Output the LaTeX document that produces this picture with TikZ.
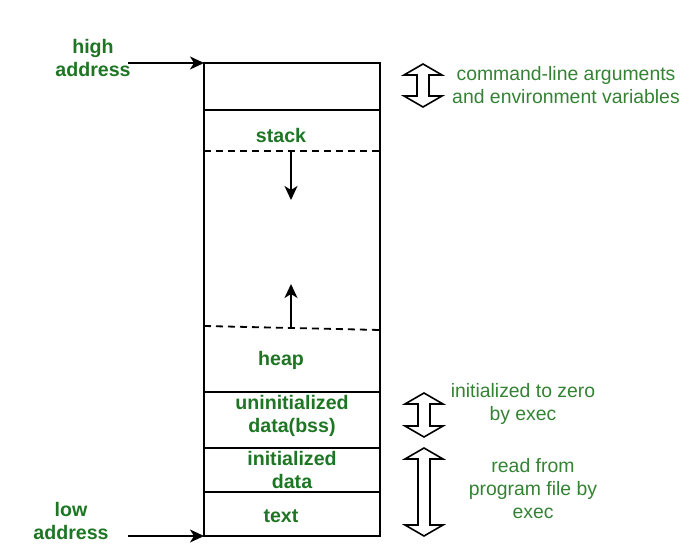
\documentclass[tikz,border=0pt]{standalone}
\usepackage{fontspec}
\setmainfont{Liberation Sans}
\usetikzlibrary{arrows.meta}
\definecolor{bgreen}{RGB}{30,118,36}
\definecolor{lgreen}{RGB}{52,130,52}
\begin{document}
\begin{tikzpicture}[x=1pt,y=-1pt,
  lab/.style={font=\fontsize{19.6}{22.5}\selectfont\bfseries, text=bgreen, align=center, inner sep=0pt},
  note/.style={font=\fontsize{19.4}{23}\selectfont, text=lgreen, align=center, inner sep=0pt},
  wall/.style={line width=2pt, black},
  dashline/.style={line width=1.8pt, dash pattern=on 7pt off 5pt},
  arr/.style={line width=1.7pt, -{Stealth[length=14pt,width=13pt,inset=4pt]}},
  hollow/.style={line width=1.6pt, fill=white, line join=miter}]
\useasboundingbox (0,0) rectangle (699,545);
% box
\coordinate (tl) at (204,63);
\coordinate (tr) at (380,63);
\coordinate (bl) at (204,536);
\coordinate (br) at (380,536);
\draw[wall] (tl) rectangle (br);
\draw[wall] (204,110) -- (380,110);
\draw[wall] (204,392) -- (380,392);
\draw[wall] (204,448) -- (380,448);
\draw[wall] (204,492) -- (380,492);
\draw[dashline] (204,151) -- (380,151);
\draw[dashline] (204,326) -- (380,330);
% growth arrows
\coordinate (sA) at (291,151);
\coordinate (sB) at (291,200);
\coordinate (hA) at (291,327);
\coordinate (hB) at (291,284);
\draw[arr] (sA) -- (sB);
\draw[arr] (hA) -- (hB);
% labels in box
\node[lab] (stack) at (281,135) {stack};
\node[lab] (heap) at (281,360) {heap};
\node[lab] (bss) at (292,416) {uninitialized\\data(bss)};
\node[lab] (init) at (292,470) {initialized\\data};
\node[lab] (text) at (281,516) {text};
% address labels
\node[lab] (high) at (93,58) {high\\address};
\node[lab] (low) at (71,521) {low\\address};
\coordinate (hiS) at (128,63);
\coordinate (loS) at (128,536);
\draw[arr] (hiS) -- (tl);
\draw[arr] (loS) -- (bl);
% hollow double arrows
\newcommand{\dblarrow}[3]{% x, top, bottom
  \draw[hollow] (#1,#2) -- (#1+19,#2+11) -- (#1+6,#2+11) -- (#1+6,#3-11) -- (#1+19,#3-11)
    -- (#1,#3) -- (#1-19,#3-11) -- (#1-6,#3-11) -- (#1-6,#2+11) -- (#1-19,#2+11) -- cycle;}
\dblarrow{423}{64}{107}
\dblarrow{424}{393}{437}
\dblarrow{424}{448}{536}
% notes
\node[note] (n1) at (566,85) {command-line arguments\\and environment variables};
\node[note] (n2) at (523,404) {initialized to zero\\by exec};
\node[note] (n3) at (533,489) {read from\\program file by\\exec};
\end{tikzpicture}
\end{document}
